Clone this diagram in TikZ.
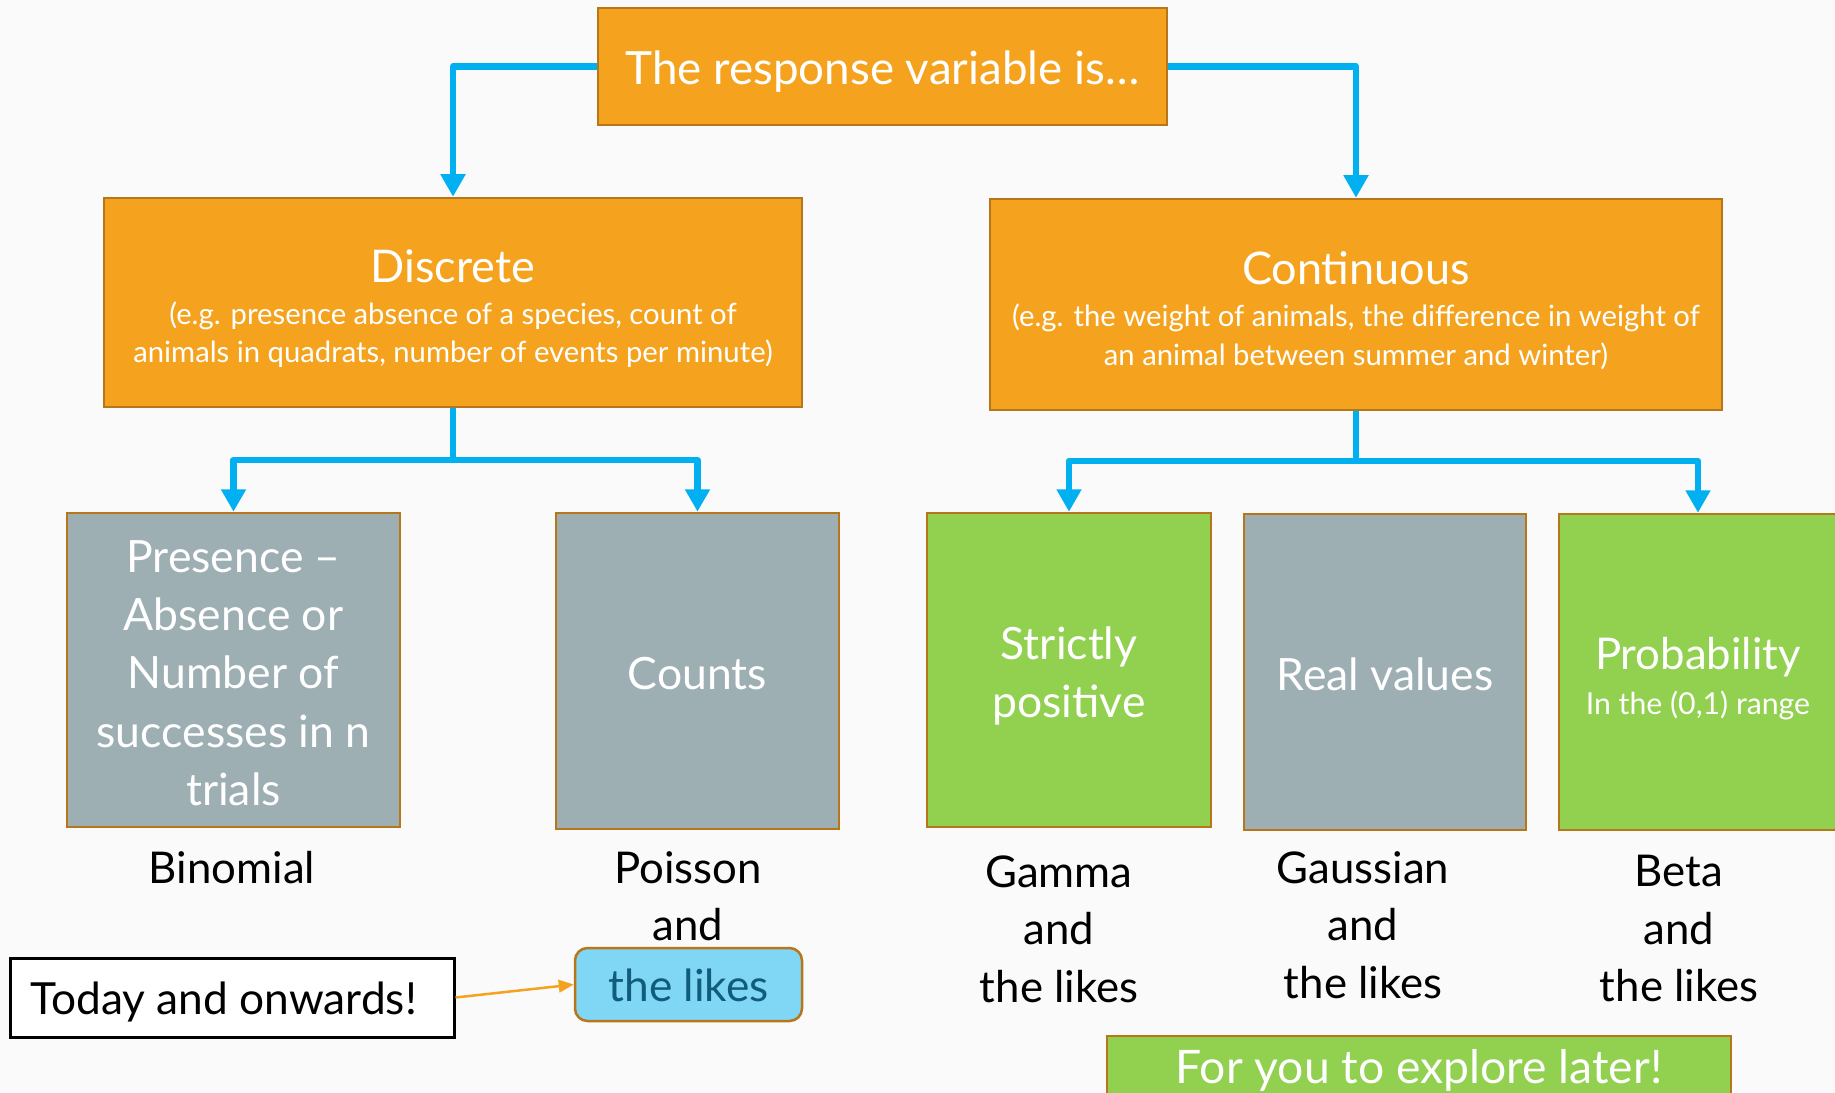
\documentclass[tikz,border=0pt]{standalone}
\usepackage{fontspec}
\setmainfont{Lato}
\usetikzlibrary{arrows.meta}
\definecolor{bgc}{HTML}{FAFAFA}
\definecolor{orng}{HTML}{F5A31F}
\definecolor{brd}{HTML}{B8761A}
\definecolor{greybox}{HTML}{9EAFB4}
\definecolor{grn}{HTML}{92D050}
\definecolor{arrowblue}{HTML}{00B0F0}
\definecolor{lblue}{HTML}{7FD6F5}
\definecolor{likestext}{HTML}{105C7A}
\tikzset{
  box/.style={draw=brd, line width=1pt, inner sep=0pt},
  obox/.style={box, fill=orng},
  gbox/.style={box, fill=greybox},
  grbox/.style={box, fill=grn},
  wtxt/.style={text=white, align=center, inner sep=0pt},
  big/.style={wtxt, font=\fontsize{17.8}{23.3}\selectfont},
  subtxt/.style={wtxt, font=\fontsize{11.7}{15.4}\selectfont},
  lbl/.style={align=center, text=black, inner sep=0pt, font=\fontsize{17.5}{23}\selectfont},
  connline/.style={draw=arrowblue, line width=2.6pt, line join=round},
  conn/.style={connline, -{Triangle[width=9.5pt,length=9pt]}},
  note/.style={draw=orng, line width=1pt, -{Triangle[width=5pt,length=6pt]}}
}
\begin{document}
\begin{tikzpicture}[x=0.4pt,y=-0.4pt]
\fill[bgc] (0,0) rectangle (1835,1093);
\useasboundingbox (0,0) rectangle (1835,1093);

% boxes
\node[obox, minimum width=227.6pt, minimum height=46.8pt] (top) at (882.5,66.5) {};
\node[obox, minimum width=279.2pt, minimum height=83.6pt] (disc) at (453,302.5) {};
\node[obox, minimum width=292.8pt, minimum height=84.4pt] (cont) at (1356,304.5) {};
\node[gbox, minimum width=133.2pt, minimum height=125.6pt] (pres) at (233.5,670) {};
\node[gbox, minimum width=113.2pt, minimum height=126.4pt] (counts) at (697.5,671) {};
\node[grbox, minimum width=113.6pt, minimum height=125.6pt] (strict) at (1069,670) {};
\node[gbox, minimum width=112.8pt, minimum height=126.4pt] (real) at (1385,672) {};
\node[grbox, minimum width=111.2pt, minimum height=126.4pt] (prob) at (1698,672) {};

% texts in boxes
\node[wtxt, font=\fontsize{18.3}{20}\selectfont] (topt) at ([yshift=-2.2pt]top.center) {The response variable is…};
\node[subtxt] (disct) at ([yshift=-2.4pt]disc.center)
  {{\fontsize{18}{18}\selectfont Discrete}\\[1.5pt]
   (e.g. presence absence of a species, count of\\
   animals in quadrats, number of events per minute)};
\node[subtxt] (contt) at ([yshift=-2.4pt]cont.center)
  {{\fontsize{18}{18}\selectfont Continuous}\\[1.5pt]
   (e.g. the weight of animals, the difference in weight of\\
   an animal between summer and winter)};
\node[big] (prest) at ([yshift=-1.2pt]pres.center)
  {Presence –\\Absence or\\Number of\\successes in n\\trials};
\node[big] (countst) at ([yshift=-1pt]counts.center) {Counts};
\node[big] (strictt) at ([yshift=-2.4pt]strict.center) {Strictly\\positive};
\node[big] (realt) at ([yshift=-1pt]real.center) {Real values};
\node[wtxt, font=\fontsize{12.1}{14}\selectfont] (probt) at ([yshift=-2.6pt]prob.center)
  {{\fontsize{17.5}{18}\selectfont Probability}\\[3.8pt]
   In the (0,1) range};

% connectors
\draw[conn] (top.west) -| (disc.north);
\draw[conn] (top.east) -| (cont.north);
\coordinate (dj) at (453,460);
\coordinate (cj) at (1356,461);
\draw[connline] (disc.south) -- (dj);
\draw[conn] (dj) -| (pres.north);
\draw[conn] (dj) -| (counts.north);
\draw[connline] (cont.south) -- (cj);
\draw[conn] (cj) -| (strict.north);
\draw[conn] (cj) -| (prob.north);

% labels
\node[lbl] (binom) at (232,868) {Binomial};
\node[lbl, anchor=north] (pois) at (688,851) {Poisson\\and};
\node[draw=brd, line width=1pt, fill=lblue, rounded corners=5pt, minimum width=90.8pt, minimum height=29.2pt, inner sep=0pt] (likes) at (688.5,984.5) {};
\node[text=likestext, inner sep=0pt, font=\fontsize{17.7}{19}\selectfont] (likest) at ([yshift=-0.4pt]likes.center) {the likes};
\node[lbl, anchor=north] (gamma) at (1059,855) {Gamma\\and\\the likes};
\node[lbl, anchor=north] (gauss) at (1363,851) {Gaussian\\and\\the likes};
\node[lbl, anchor=north] (beta) at (1679,855) {Beta\\and\\the likes};

\node[draw=black, line width=1.2pt, fill=white, minimum width=177.2pt, minimum height=31.6pt, inner sep=0pt] (today) at (232.5,997.5) {};
\node[inner sep=0pt, font=\fontsize{17.7}{19}\selectfont] (todayt) at ([xshift=-3.5pt,yshift=-1.6pt]today.center) {Today and onwards!};
\draw[note] (today.east) -- (likes.west);

\node[grbox, minimum width=249.6pt, minimum height=24.8pt] (later) at (1419,1067) {};
\node[wtxt, font=\fontsize{18.5}{19}\selectfont] (latert) at ([yshift=-1.4pt]later.center) {For you to explore later!};
\end{tikzpicture}
\end{document}
